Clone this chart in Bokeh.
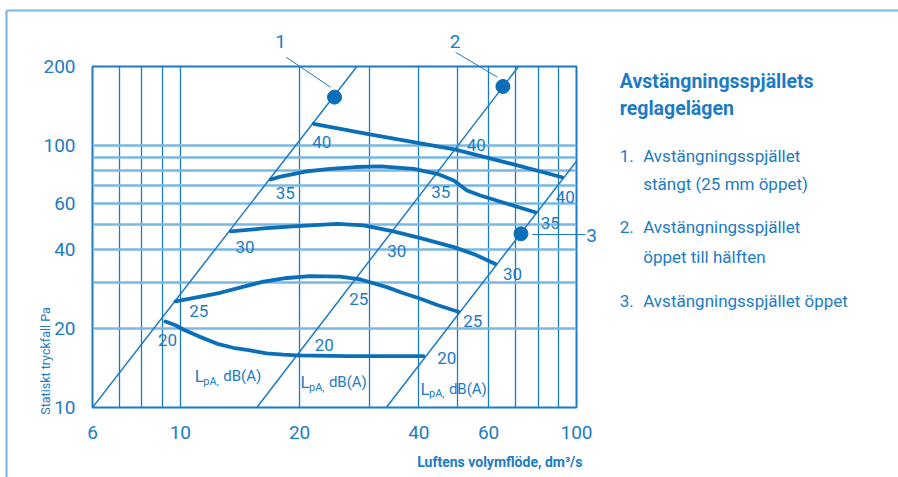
import math
from bokeh.plotting import figure
from bokeh.models import Range1d, FixedTicker, BasicTickFormatter
from bokeh.core.properties import value
from bokeh.embed import file_html
from bokeh.resources import INLINE

# ---------------- data ----------------
flow_ticks = [6, 10, 20, 40, 60, 100]
pressure_ticks = [10, 20, 40, 60, 100, 200]
flow_grid = [7, 8, 9, 10, 20, 30, 40, 50, 60, 70, 80, 90]
pressure_grid = [20, 30, 40, 50, 60, 70, 80, 90, 100]

# damper setting lines (power-law lines on log-log paper)
pos1_q = [6.0, 27.9]
pos1_p = [10, 200]
pos2_q = [15.6, 71.4]
pos2_p = [10, 200]
pos3_q = [33.1, 100]
pos3_p = [10, 87]

# marked points on the damper lines
dot_q = [24.5, 65.2, 72.4]
dot_p = [152.8, 167.8, 46.0]

# sound level curves LpA, dB(A)
db40_q = [21.7, 29.6, 49.2, 69.4, 91.9]
db40_p = [120.9, 110.7, 96.5, 84.6, 75.6]
db35_q = [16.9, 17.9, 20.7, 23.9, 27.7, 32.0, 38.8, 44.5, 49.0, 52.9, 57.2, 66.8, 78.7]
db35_p = [74.1, 76.0, 79.5, 81.4, 82.7, 83.1, 81.4, 77.9, 73.5, 67.3, 64.4, 59.9, 55.6]
db30_q = [13.4, 16.2, 19.7, 24.9, 29.0, 34.5, 40.4, 49.0, 55.5, 62.4]
db30_p = [47.0, 48.2, 49.2, 50.2, 49.5, 47.0, 44.3, 40.9, 38.3, 35.3]
db25_q = [9.72, 11.0, 12.6, 14.3, 16.2, 18.6, 21.3, 25.3, 28.5, 33.2, 36.6, 40.4, 44.5, 50.3]
db25_p = [25.4, 26.3, 27.4, 28.8, 30.2, 31.2, 31.7, 31.6, 30.8, 28.8, 27.3, 26.0, 24.6, 23.2]
db20_q = [9.17, 9.72, 10.2, 11.2, 12.4, 13.6, 15.0, 16.5, 18.2, 19.7, 26.4, 41.1]
db20_p = [21.3, 20.6, 19.8, 18.6, 17.5, 16.9, 16.5, 16.1, 15.9, 15.8, 15.7, 15.7]

legend_title = ["Avstängningsspjällets", "reglagelägen"]
legend_items = [("1.", ["Avstängningsspjället", "stängt (25 mm öppet)"]),
                ("2.", ["Avstängningsspjället", "öppet till hälften"]),
                ("3.", ["Avstängningsspjället öppet"])]

# ---------------- style ----------------
FONT = "Roboto"
TEXT = "#1b7bc4"
LINE = "#0b6fb8"
GRID_LIGHT = "#7ab8e2"
GRID_DARK = "#1b7bc4"

X0, X1, Y0, Y1 = 6, 100, 10, 200
W, H = 898, 477
# frame position in pixels
FX0, FX1, FY0, FY1 = 92, 576, 407, 66


def at(px, py):
    """pixel -> data coords (for placing annotations)"""
    lx = math.log10(X0) + (px - FX0) / (FX1 - FX0) * (math.log10(X1) - math.log10(X0))
    ly = math.log10(Y0) + (FY0 - py) / (FY0 - FY1) * (math.log10(Y1) - math.log10(Y0))
    return 10 ** lx, 10 ** ly


p = figure(width=W, height=H, x_axis_type="log", y_axis_type="log",
           x_range=Range1d(X0, X1), y_range=Range1d(Y0, Y1),
           output_backend="svg", toolbar_location=None,
           min_border_left=FX0, min_border_right=W - FX1,
           min_border_top=FY1, min_border_bottom=H - FY0)
p.background_fill_color = "white"
p.border_fill_color = "white"
p.outline_line_color = GRID_DARK
p.outline_line_width = 2

for ax in (p.xaxis[0], p.yaxis[0]):
    ax.axis_line_color = None
    ax.major_tick_line_color = None
    ax.minor_tick_line_color = None
    ax.major_label_text_color = TEXT
    ax.major_label_text_font = FONT
    ax.major_label_text_font_size = "19px"
    ax.formatter = BasicTickFormatter(use_scientific=False)
p.xaxis.ticker = FixedTicker(ticks=flow_ticks)
p.yaxis.ticker = FixedTicker(ticks=pressure_ticks)
p.xaxis.major_label_standoff = 12
p.yaxis.major_label_standoff = 11

p.xgrid.ticker = FixedTicker(ticks=flow_grid)
p.xgrid.grid_line_color = GRID_DARK
p.xgrid.grid_line_width = 1.3
p.ygrid.ticker = FixedTicker(ticks=pressure_grid)
p.ygrid.grid_line_color = GRID_LIGHT
p.ygrid.grid_line_width = 2.5

# damper lines
for q, pr in ((pos1_q, pos1_p), (pos2_q, pos2_p), (pos3_q, pos3_p)):
    p.line(q, pr, line_color=GRID_DARK, line_width=1.5)

# sound curves
for q, pr in ((db40_q, db40_p), (db35_q, db35_p), (db30_q, db30_p),
              (db25_q, db25_p), (db20_q, db20_p)):
    p.line(q, pr, line_color=LINE, line_width=3.8, line_join="round", line_cap="round")

p.scatter(dot_q, dot_p, size=14, fill_color=LINE, line_color=LINE)


def label(text, px, py, size, align="center", baseline="middle", bold=False, angle=0.0):
    x, y = at(px, py)
    p.text(x=[x], y=[y], text=[text], text_font=value(FONT), text_font_size=f"{size}px",
           text_color=TEXT, text_align=align, text_baseline=baseline,
           text_font_style="bold" if bold else "normal", angle=angle, level="overlay")


def seg(x0, y0, x1, y1, color=GRID_DARK, width=1.0):
    a = at(x0, y0)
    b = at(x1, y1)
    p.line([a[0], b[0]], [a[1], b[1]], line_color=color, line_width=width, level="overlay")


# outer frame of the figure box
seg(6, 10, 910, 10, GRID_LIGHT, 2.2)
seg(6, 10, 6, 490, GRID_LIGHT, 2.2)

# callouts
seg(285.7, 56.7, 330, 86.7)
seg(455, 51.7, 497, 76.7)
seg(531.7, 234, 585, 234)
label("1", 280, 40.5, 19)
label("2", 454.5, 40.5, 19)
label("3", 591, 234.5, 19)

# dB labels on curves (text, x, y in pixels)
db_labels = [("40", 321.3, 141.7), ("40", 475.8, 144.5), ("40", 564.7, 196.7),
             ("35", 284.7, 192.5), ("35", 440.3, 191.8), ("35", 549.7, 222.5),
             ("30", 244.5, 246.3), ("30", 396.2, 250.8), ("30", 512.0, 273.3),
             ("25", 198.3, 310.8), ("25", 358.3, 298.0), ("25", 472.2, 320.5),
             ("20", 167.0, 339.7), ("20", 323.8, 344.7), ("20", 446.3, 357.0)]
for t, x, y in db_labels:
    label(t, x, y, 17)

# L_pA, dB(A) labels
for lx, ly in ((194.3, 375.7), (300.0, 381.7), (420.0, 388.3)):
    label("L", lx, ly, 17, align="left", baseline="alphabetic")
    label("pA,", lx + 8.5, ly + 5, 11, align="left", baseline="alphabetic")
    label("dB(A)", lx + 28.4, ly, 15, align="left", baseline="alphabetic")

# axis titles
label("Luftens volymflöde, dm³/s", 582, 461.5, 14, align="right", baseline="alphabetic", bold=True)
label("Statiskt tryckfall Pa", 44.7, 360.5, 12.5, angle=math.pi / 2)

# legend on the right
label(legend_title[0], 619.3, 80.7, 19.5, align="left", baseline="alphabetic", bold=True)
label(legend_title[1], 619.3, 108.3, 19.5, align="left", baseline="alphabetic", bold=True)
baselines = [(155, 183.5), (226.7, 256.5), (300,)]
for (num, lines), bl in zip(legend_items, baselines):
    label(num, 619.3, bl[0], 17, align="left", baseline="alphabetic")
    for txt, b in zip(lines, bl):
        label(txt, 642.7, b, 17, align="left", baseline="alphabetic")

open("out.html", "w").write(file_html(p, INLINE))
